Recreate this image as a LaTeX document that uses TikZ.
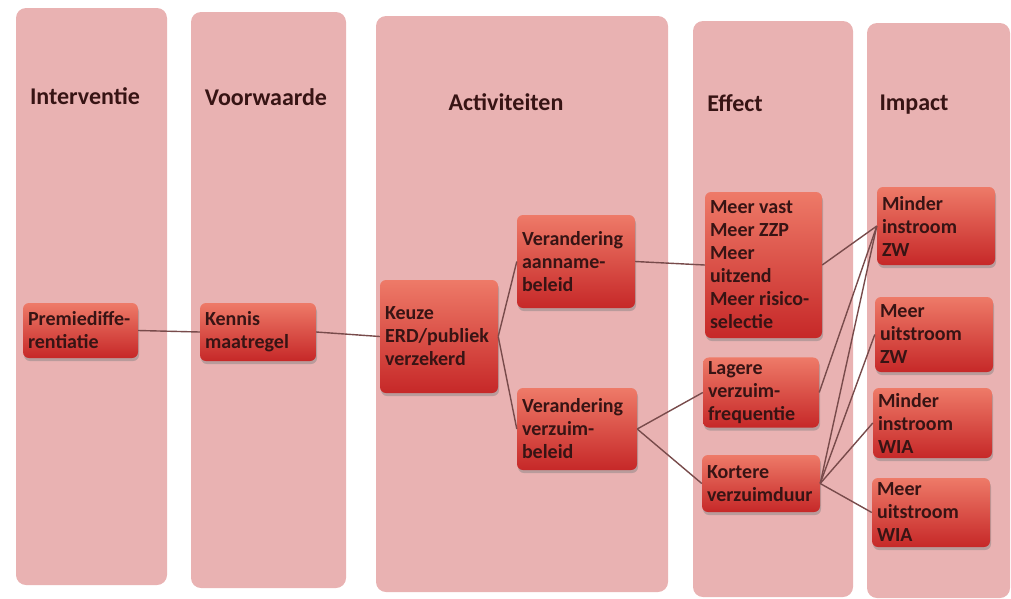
\documentclass[tikz,border=0pt]{standalone}
\usepackage{fontspec}
\setmainfont{Carlito}
\usetikzlibrary{shadows}
\definecolor{paneel}{RGB}{233,178,178}
\definecolor{bloktop}{RGB}{238,122,104}
\definecolor{blokbodem}{RGB}{198,40,40}
\definecolor{lijn}{RGB}{120,75,75}
\definecolor{tekst}{RGB}{55,20,20}

\tikzset{
  paneel/.style={fill=paneel, rounded corners=10pt},
  kop/.style={font=\fontsize{24}{26}\selectfont\bfseries, text=tekst},
  blok/.style={rounded corners=6pt, top color=bloktop, bottom color=blokbodem,
    drop shadow={opacity=0.45, shadow xshift=1pt, shadow yshift=-3pt},
    align=flush left, inner xsep=5pt, inner ysep=4pt, text=tekst,
    font=\fontsize{20}{23}\selectfont\bfseries},
  maat/.style 2 args={text width=#1pt, minimum height=#2pt},
  verb/.style={draw=lijn, line width=1.4pt},
}

\begin{document}
\begin{tikzpicture}[x=1pt, y=-1pt]
\useasboundingbox (0,0) rectangle (1011,598);

% kolommen
\foreach \xa/\ya/\xb/\yb in {16/8/167/585, 191/12/346/588, 376/16/668/592, 693/21/853/597, 867/23/1010/598}
    \path[paneel] (\xa,\ya) rectangle (\xb,\yb);

\node[kop] (interventie) at (85,96) {Interventie};
\node[kop] (voorwaarde) at (266,97) {Voorwaarde};
\node[kop] (activiteiten) at (506,102) {Activiteiten};
\node[kop] (effect) at (735,103) {Effect};
\node[kop] (impact) at (914,105) {Impact};

% blokken
\node[blok, maat={105}{55}] (premie) at (80.5,330.5) {Premiediffe-\\rentiatie};
\node[blok, maat={106}{58}] (kennis) at (258,332) {Kennis\\maatregel};
\node[blok, maat={108}{113}] (keuze) at (439,336.5) {Keuze\\ERD/publiek\\verzekerd};
\node[blok, maat={108}{93}] (aanname) at (576,261.5) {Verandering\\aanname-\\beleid};
\node[blok, maat={110}{82}] (verzuim) at (577,429) {Verandering\\verzuim-\\beleid};
\node[blok, maat={107}{146}] (vast) at (763.5,265) {Meer vast\\Meer ZZP\\Meer\\uitzend\\Meer risico-\\selectie};
\node[blok, maat={106}{69}] (lagere) at (761,392.5) {Lagere\\verzuim-\\frequentie};
\node[blok, maat={108}{57}] (kortere) at (761,483.5) {Kortere\\verzuimduur};
\node[blok, maat={108}{78}] (instroomzw) at (936,226) {Minder\\instroom\\ZW};
\node[blok, maat={108}{75}] (uitstroomzw) at (934,334.5) {Meer\\uitstroom\\ZW};
\node[blok, maat={109}{70}] (instroomwia) at (932.5,423) {Minder\\instroom\\WIA};
\node[blok, maat={108}{69}] (uitstroomwia) at (931,512.5) {Meer\\uitstroom\\WIA};

\foreach \i/\j in {premie/kennis, kennis/keuze, keuze/aanname, keuze/verzuim, aanname/vast, verzuim/lagere, verzuim/kortere, vast/instroomzw, lagere/instroomzw, kortere/instroomzw, kortere/uitstroomzw, kortere/instroomwia, kortere/uitstroomwia}
    \draw[verb] (\i.east) -- (\j.west);
%
\end{tikzpicture}
\end{document}
